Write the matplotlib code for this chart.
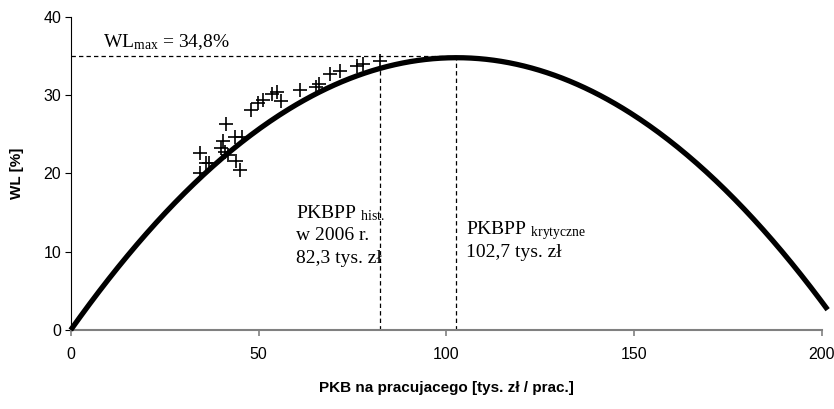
import numpy as np
import matplotlib
matplotlib.use("Agg")
import matplotlib.pyplot as plt

# ---- data ----
pkb_points = [34.5, 34.5, 35.9, 36.8, 40.0, 40.6, 41.3, 41.0, 42.0, 43.8, 45.7,
              44.1, 45.0, 48.1, 49.9, 51.2, 53.5, 54.8, 56.1, 61.0, 65.2, 66.1,
              69.0, 71.6, 76.1, 77.8, 82.3]
wl_points = [22.6, 20.1, 21.4, 21.4, 23.3, 24.1, 26.3, 22.8, 22.4, 24.7, 24.7,
             21.6, 20.5, 28.1, 29.0, 29.4, 30.2, 30.4, 29.3, 30.7, 31.1, 31.5,
             32.7, 33.1, 33.8, 34.0, 34.4]
pkb_critical = 102.7   # PKBPP krytyczne
wl_max = 34.8          # WL max
pkb_hist = 82.3        # PKBPP hist. 2006
x_ticks = [0, 50, 100, 150, 200]
y_ticks = [0, 10, 20, 30, 40]

plt.rcParams['mathtext.fontset'] = 'custom'
plt.rcParams['mathtext.rm'] = 'Liberation Serif'
plt.rcParams['mathtext.it'] = 'Liberation Serif:italic'

fig = plt.figure(figsize=(8.34, 4.09), dpi=100)
ax = fig.add_axes([0.0848, 0.1932, 0.9008, 0.7652])

# fitted parabola: WL = WLmax * (1 - ((x - x0)/x0)^2)
def wl_curve(x):
    return wl_max * (1 - ((x - pkb_critical) / pkb_critical) ** 2)

xc = np.linspace(0, 201.5, 400)
ax.plot(xc, wl_curve(xc), color='black', lw=3.8, solid_capstyle='butt',
        clip_on=False, zorder=3)

ax.plot(pkb_points, wl_points, linestyle='none', marker='+', color='black',
        markersize=9.5, markeredgewidth=1.2, zorder=4)

dash = (0, (3.5, 2.5))
ax.plot([0, pkb_critical], [wl_max, wl_max], color='black', lw=0.9, linestyle=dash,
        transform=ax.transData + matplotlib.transforms.ScaledTranslation(0, 2/100, fig.dpi_scale_trans))
ax.plot([pkb_critical, pkb_critical], [0, wl_max], color='black', lw=0.9, linestyle=dash)
ax.plot([pkb_hist, pkb_hist], [0, wl_curve(pkb_hist)], color='black', lw=0.9, linestyle=dash)

ax.set_xlim(0, 200)
ax.set_ylim(0, 40)
ax.set_xticks(x_ticks)
ax.set_yticks(y_ticks)

ax.spines['top'].set_visible(False)
ax.spines['right'].set_visible(False)
ax.spines['left'].set_color('black')
ax.spines['left'].set_linewidth(0.8)
ax.spines['bottom'].set_color('#808080')
ax.spines['bottom'].set_linewidth(1.5)
ax.tick_params(axis='y', direction='out', length=4, width=0.8, color='black',
               labelsize=11.5, pad=3)
ax.tick_params(axis='x', direction='out', length=4, width=1.2, color='#808080',
               labelsize=11.5, pad=8)
for lab in ax.get_xticklabels() + ax.get_yticklabels():
    lab.set_fontfamily('Liberation Sans')

ax.set_xlabel('PKB na pracujacego [tys. zł / prac.]', fontfamily='Liberation Sans',
              fontweight='bold', fontsize=11, labelpad=14)
ax.set_ylabel('WL [%]', fontfamily='Liberation Sans', fontweight='bold',
              fontsize=11, labelpad=14)

serif = 'Liberation Serif'
ax.text(8.6, 36.1, r'WL$_{\mathrm{max}}$ = 34,8%', fontfamily=serif, fontsize=14,
        va='baseline', ha='left')
ax.text(59.9, 14.3, r'PKBPP $_{\mathrm{hist.}}$', fontfamily=serif, fontsize=14,
        va='baseline', ha='left')
ax.text(59.9, 11.45, 'w 2006 r.', fontfamily=serif, fontsize=14,
        va='baseline', ha='left')
ax.text(59.9, 8.6, '82,3 tys. zł', fontfamily=serif, fontsize=14,
        va='baseline', ha='left')
ax.text(105.3, 12.2, r'PKBPP $_{\mathrm{krytyczne}}$', fontfamily=serif, fontsize=14,
        va='baseline', ha='left')
ax.text(105.3, 9.35, '102,7 tys. zł', fontfamily=serif, fontsize=14,
        va='baseline', ha='left')

fig.savefig('out.png', dpi=100)
